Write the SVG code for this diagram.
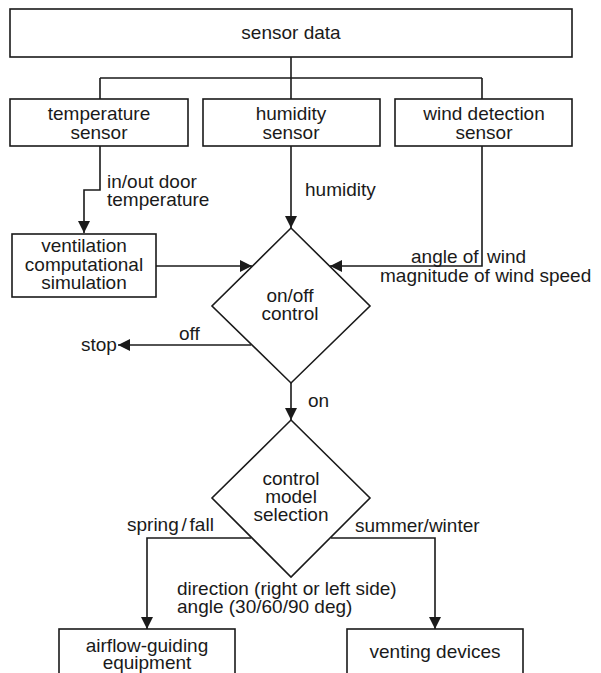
<svg xmlns="http://www.w3.org/2000/svg" width="601" height="673" viewBox="0 0 601 673">
<defs>
<style>
.box{fill:#fff;stroke:#1a1a1a;stroke-width:1.6}
.ln{fill:none;stroke:#1a1a1a;stroke-width:1.6}
text{font-family:"Liberation Sans",Arial,sans-serif;font-size:19px;fill:#1a1a1a}
.c{text-anchor:middle}
</style>
<marker id="ah" markerWidth="12" markerHeight="12" viewBox="0 0 12 12" refX="12" refY="6" orient="auto" markerUnits="userSpaceOnUse">
<path d="M0,0 L12,6 L0,12 Z" fill="#1a1a1a"/>
</marker>
</defs>
<rect width="601" height="673" fill="#fff"/>
<g id="connectors">
<path class="ln" d="M291,57 V99"/>
<path class="ln" d="M100,78 H482 M100,78 V99 M482,78 V99"/>
<path class="ln" d="M100,146 V190 H84 V233" marker-end="url(#ah)"/>
<path class="ln" d="M291,146 V228" marker-end="url(#ah)"/>
<path class="ln" d="M482,146 V266 H330" marker-end="url(#ah)"/>
<path class="ln" d="M156,266 H252" marker-end="url(#ah)"/>
<path class="ln" d="M251,345 H118" marker-end="url(#ah)"/>
<path class="ln" d="M291,383 V420" marker-end="url(#ah)"/>
<path class="ln" d="M251,538 H147 V629" marker-end="url(#ah)"/>
<path class="ln" d="M331,538 H435 V629" marker-end="url(#ah)"/>
<text x="107" y="188">in/out door</text>
<text x="107" y="206">temperature</text>
<text x="305" y="196">humidity</text>
<text x="411" y="263">angle of <tspan x="487">wind</tspan></text>
<text x="380" y="282">magnitude of wind speed</text>
<text x="179" y="340">off</text>
<text x="81" y="351">stop</text>
<text x="308" y="407">on</text>
<text x="127" y="531" word-spacing="-2.5">spring / fall</text>
<text x="355" y="532">summer/winter</text>
<text x="177" y="595">direction (right or left side)</text>
<text x="177" y="613">angle (30/60/90 deg)</text>
</g>
<g id="sensor-data">
<rect class="box" x="10" y="9" width="562" height="48"/>
<text class="c" x="291" y="39">sensor data</text>
</g>
<g id="temperature-sensor">
<rect class="box" x="10" y="99" width="178" height="47"/>
<text class="c" x="99" y="120">temperature</text>
<text class="c" x="99" y="139">sensor</text>
</g>
<g id="humidity-sensor">
<rect class="box" x="203" y="99" width="177" height="47"/>
<text class="c" x="291" y="120">humidity</text>
<text class="c" x="291" y="139">sensor</text>
</g>
<g id="wind-detection-sensor">
<rect class="box" x="395" y="99" width="177" height="47"/>
<text class="c" x="484" y="120">wind detection</text>
<text class="c" x="484" y="139">sensor</text>
</g>
<g id="ventilation-simulation">
<rect class="box" x="12" y="234" width="144" height="63"/>
<text class="c" x="84" y="252">ventilation</text>
<text class="c" x="84" y="271">computational</text>
<text class="c" x="84" y="289">simulation</text>
</g>
<g id="onoff-control">
<polygon class="box" points="291,228 370,306 291,383 212,306"/>
<text class="c" x="290" y="302">on/off</text>
<text class="c" x="290" y="320">control</text>
</g>
<g id="control-model-selection">
<polygon class="box" points="291,420 370,498 291,577 212,498"/>
<text class="c" x="291" y="485">control</text>
<text class="c" x="291" y="503">model</text>
<text class="c" x="291" y="521">selection</text>
</g>
<g id="airflow-guiding-equipment">
<rect class="box" x="59" y="629" width="176" height="60"/>
<text class="c" x="147" y="652">airflow-guiding</text>
<text class="c" x="147" y="669">equipment</text>
</g>
<g id="venting-devices">
<rect class="box" x="347" y="629" width="176" height="60"/>
<text class="c" x="435" y="658">venting devices</text>
</g>
</svg>
